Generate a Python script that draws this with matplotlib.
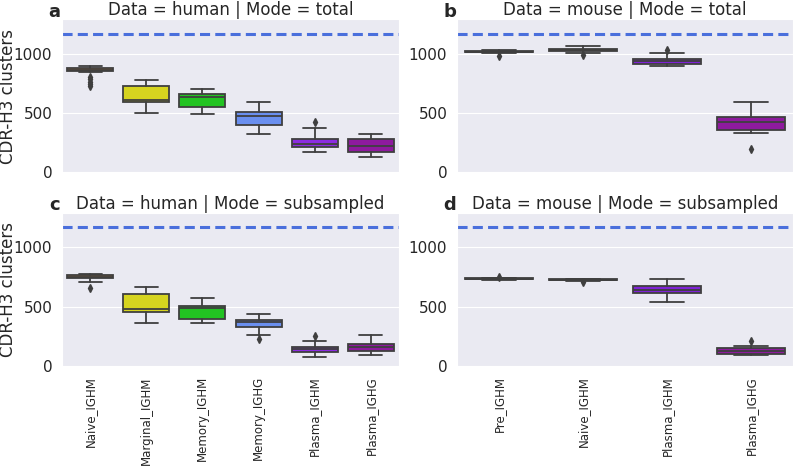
import matplotlib
matplotlib.use("Agg")
import matplotlib.pyplot as plt
import seaborn as sns

# categories and colours
human_cells = ["Naive_IGHM", "Marginal_IGHM", "Memory_IGHM", "Memory_IGHG", "Plasma_IGHM", "Plasma_IGHG"]
mouse_cells = ["Pre_IGHM", "Naive_IGHM", "Plasma_IGHM", "Plasma_IGHG"]
human_colors = ["#c47a30", "#d6d41f", "#22c322", "#6a8fef", "#8b2be0", "#8e1a9e"]
mouse_colors = ["#8c5a3c", "#c47a30", "#7f22d6", "#8e1a9e"]

# reference line (total unique clusters)
reference_clusters = 1168

# box statistics: whisker low, q1, median, q3, whisker high, outliers
human_total_lo = [848, 497, 494, 323, 168, 126]
human_total_q1 = [851, 590, 548, 402, 214, 168]
human_total_med = [865, 612, 635, 472, 242, 219]
human_total_q3 = [880, 730, 663, 505, 284, 284]
human_total_hi = [893, 781, 699, 590, 374, 326]
human_total_fliers = [[800, 785, 765, 745, 732], [], [], [], [425], []]

mouse_total_lo = [1005, 1008, 899, 332]
mouse_total_q1 = [1012, 1022, 916, 357]
mouse_total_med = [1018, 1033, 938, 425]
mouse_total_q3 = [1022, 1042, 958, 463]
mouse_total_hi = [1028, 1062, 1006, 590]
mouse_total_fliers = [[983], [992], [1030], [194]]

human_sub_lo = [704, 366, 366, 263, 75, 92]
human_sub_q1 = [737, 452, 397, 327, 117, 131]
human_sub_med = [750, 483, 492, 374, 140, 162]
human_sub_q3 = [765, 606, 508, 385, 162, 188]
human_sub_hi = [772, 665, 570, 439, 209, 263]
human_sub_fliers = [[660], [], [], [226], [251], []]

mouse_sub_lo = [726, 717, 539, 92]
mouse_sub_q1 = [730, 722, 615, 106]
mouse_sub_med = [735, 726, 642, 126]
mouse_sub_q3 = [739, 730, 670, 150]
mouse_sub_hi = [744, 733, 729, 168]
mouse_sub_fliers = [[752], [707], [], [209]]

EDGE = "#3f3f3f"
TEXT = "#262626"


def make_stats(lo, q1, med, q3, hi, fliers):
    """Build the list of dicts that ax.bxp expects."""
    return [dict(whislo=a, q1=b, med=c, q3=d, whishi=e, fliers=f)
            for a, b, c, d, e, f in zip(lo, q1, med, q3, hi, fliers)]


def draw_panel(ax, stats, labels, colors, title, letter, show_xticks, show_ylabel):
    bp = ax.bxp(stats, positions=range(len(stats)), widths=0.82, patch_artist=True,
                boxprops=dict(edgecolor=EDGE, linewidth=1.3),
                medianprops=dict(color=EDGE, linewidth=1.3),
                whiskerprops=dict(color=EDGE, linewidth=1.3),
                capprops=dict(color=EDGE, linewidth=1.3),
                flierprops=dict(marker="d", markerfacecolor=EDGE, markeredgecolor=EDGE,
                                markersize=4, linestyle="none"))
    for patch, c in zip(bp["boxes"], colors):
        patch.set_facecolor(c)
    ax.axhline(reference_clusters, color="#4a6fdc", linestyle="--", linewidth=2.2,
               dashes=(3.3, 1.7))
    ax.set_xlim(-0.5, len(stats) - 0.5)
    ax.set_ylim(-3, 1290)
    ax.set_yticks([0, 500, 1000])
    ax.xaxis.grid(False)
    ax.tick_params(axis="y", labelsize=11, colors=TEXT)
    ax.set_title(title, fontsize=12, color=TEXT, pad=3)
    ax.text(-0.022, 1.016, letter, transform=ax.transAxes, fontsize=13,
            fontweight="bold", color=TEXT, va="baseline", ha="center")
    ax.set_xticks(range(len(labels)))
    if show_xticks:
        ax.set_xticklabels(labels, rotation=90, fontsize=8.5, color=TEXT)
    else:
        ax.set_xticklabels([])
    if show_ylabel:
        ax.set_ylabel("CDR-H3 clusters", fontsize=12, color=TEXT)
        ax.yaxis.set_label_coords(-0.133, 0.5)


def main():
    sns.set_style("darkgrid")
    fig = plt.figure(figsize=(7.93, 4.72), dpi=100)
    W, H = 793.0, 472.0

    def box(l, t, r, b):
        return [l / W, 1 - b / H, (r - l) / W, (b - t) / H]

    ax_a = fig.add_axes(box(62, 19.3, 399, 172.7))
    ax_b = fig.add_axes(box(457, 19.3, 793, 172.7))
    ax_c = fig.add_axes(box(62, 212.7, 399, 366.5))
    ax_d = fig.add_axes(box(457, 212.7, 793, 366.5))

    draw_panel(ax_a, make_stats(human_total_lo, human_total_q1, human_total_med, human_total_q3,
                                human_total_hi, human_total_fliers),
               human_cells, human_colors, "Data = human | Mode = total", "a", False, True)
    draw_panel(ax_b, make_stats(mouse_total_lo, mouse_total_q1, mouse_total_med, mouse_total_q3,
                                mouse_total_hi, mouse_total_fliers),
               mouse_cells, mouse_colors, "Data = mouse | Mode = total", "b", False, False)
    draw_panel(ax_c, make_stats(human_sub_lo, human_sub_q1, human_sub_med, human_sub_q3,
                                human_sub_hi, human_sub_fliers),
               human_cells, human_colors, "Data = human | Mode = subsampled", "c", True, True)
    draw_panel(ax_d, make_stats(mouse_sub_lo, mouse_sub_q1, mouse_sub_med, mouse_sub_q3,
                                mouse_sub_hi, mouse_sub_fliers),
               mouse_cells, mouse_colors, "Data = mouse | Mode = subsampled", "d", True, False)

    fig.savefig("out.png", dpi=100)


if __name__ == "__main__":
    main()
